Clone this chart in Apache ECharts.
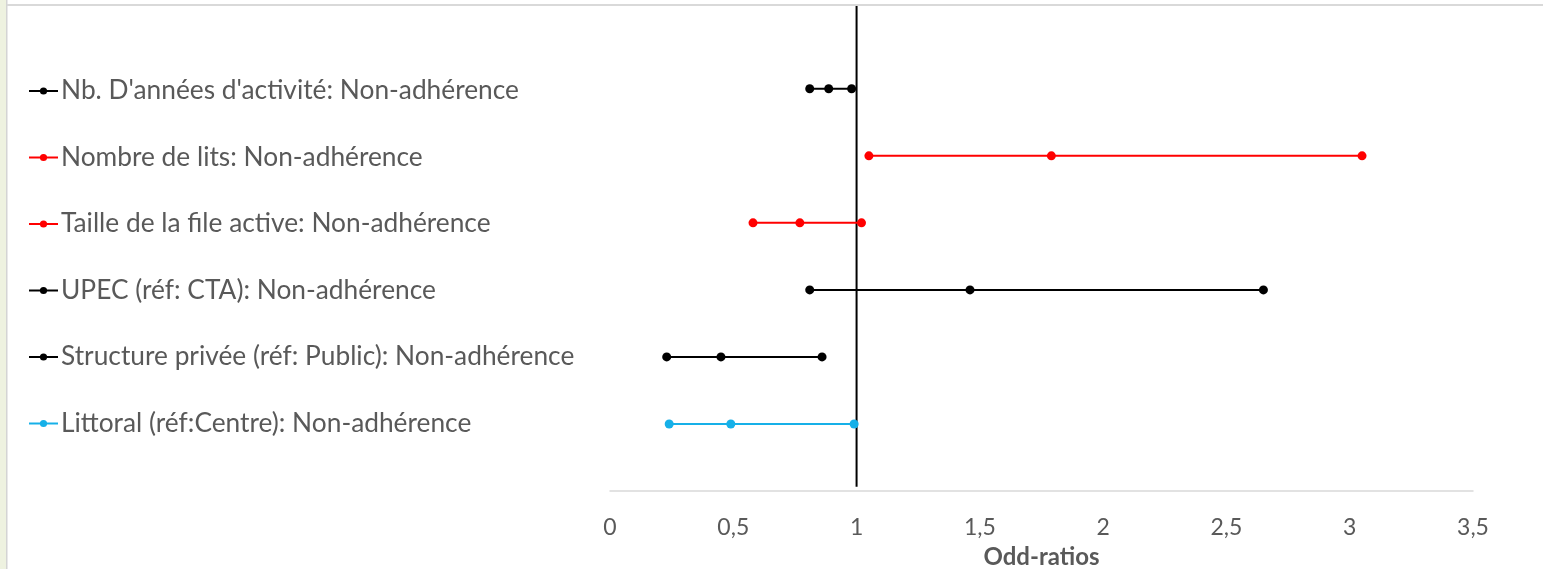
<!DOCTYPE html>
<html>
<head>
<meta charset="utf-8">
<script src="https://cdn.jsdelivr.net/npm/echarts@6/dist/echarts.min.js"></script>
<style>
html,body{margin:0;padding:0;background:#fff;overflow:hidden;}
#chart{width:1543px;height:569px;}
</style>
</head>
<body>
<div id="chart"></div>
<script>
const seriesNames = [
  "Nb. D'années d'activité: Non-adhérence",
  "Nombre de lits: Non-adhérence",
  "Taille de la file active: Non-adhérence",
  "UPEC (réf: CTA): Non-adhérence",
  "Structure privée (réf: Public): Non-adhérence",
  "Littoral (réf:Centre): Non-adhérence"
];
const lowerCI = [0.81, 1.05, 0.58, 0.81, 0.23, 0.24];
const oddRatio = [0.887, 1.79, 0.77, 1.46, 0.45, 0.49];
const upperCI = [0.98, 3.05, 1.02, 2.65, 0.86, 0.99];
const rowPos = [6, 5, 4, 3, 2, 1];
const seriesColors = ['#000000', '#ff0000', '#ff0000', '#000000', '#000000', '#16b0e8'];
const xTicks = [0, 0.5, 1, 1.5, 2, 2.5, 3, 3.5];
const refLineX = 1;
const refLineY = [0.065, 7.28];

const chart = echarts.init(document.getElementById('chart'), null, {renderer: 'canvas'});

const series = seriesNames.map((name, i) => ({
  name: name,
  type: 'line',
  data: [[lowerCI[i], rowPos[i]], [oddRatio[i], rowPos[i]], [upperCI[i], rowPos[i]]],
  symbol: 'circle',
  symbolSize: 9,
  showSymbol: true,
  lineStyle: {color: seriesColors[i], width: 2},
  itemStyle: {color: seriesColors[i]},
  z: 3,
  animation: false
}));

series.push({
  name: 'ref',
  type: 'line',
  data: refLineY.map(y => [refLineX, y]),
  symbol: 'none',
  lineStyle: {color: '#000', width: 2},
  z: 2,
  animation: false,
  silent: true
});

const option = {
  backgroundColor: '#ffffff',
  animation: false,
  graphic: [
    {type: 'rect', shape: {x: 0, y: 0, width: 6, height: 569}, style: {fill: '#eef2e0'}, z: 100},
    {type: 'rect', shape: {x: 6, y: 0, width: 1.5, height: 569}, style: {fill: '#d4d4d4'}, z: 100},
    {type: 'rect', shape: {x: 7, y: 4, width: 1536, height: 2}, style: {fill: '#d9d9d9'}, z: 100}
  ],
  legend: {
    data: seriesNames,
    orient: 'vertical',
    left: 23,
    top: 73,
    itemWidth: 29,
    itemHeight: 9,
    itemGap: 40.5,
    textStyle: {
      fontFamily: 'Lato',
      fontSize: 26.3,
      color: '#595959',
      padding: [0, 0, 0, -2]
    },
    selectedMode: false
  },
  grid: {left: 610, right: 70, top: 5, bottom: 78, containLabel: false, outerBoundsMode: 'none'},
  xAxis: {
    type: 'value',
    min: 0,
    max: 3.5,
    interval: 0.5,
    axisLine: {show: true, lineStyle: {color: '#d9d9d9', width: 1.5}},
    axisTick: {show: false},
    splitLine: {show: false},
    axisLabel: {
      fontFamily: 'Lato',
      fontSize: 23,
      color: '#595959',
      margin: 25,
      formatter: v => String(v).replace('.', ',')
    },
    name: 'Odd-ratios',
    nameLocation: 'middle',
    nameGap: 54,
    nameTextStyle: {fontFamily: 'Lato', fontSize: 24, fontWeight: 'bold', color: '#595959'}
  },
  yAxis: {
    type: 'value',
    min: 0,
    max: 7.25,
    show: false,
    splitLine: {show: false}
  },
  series: series
};
chart.setOption(option);
</script>
</body>
</html>
